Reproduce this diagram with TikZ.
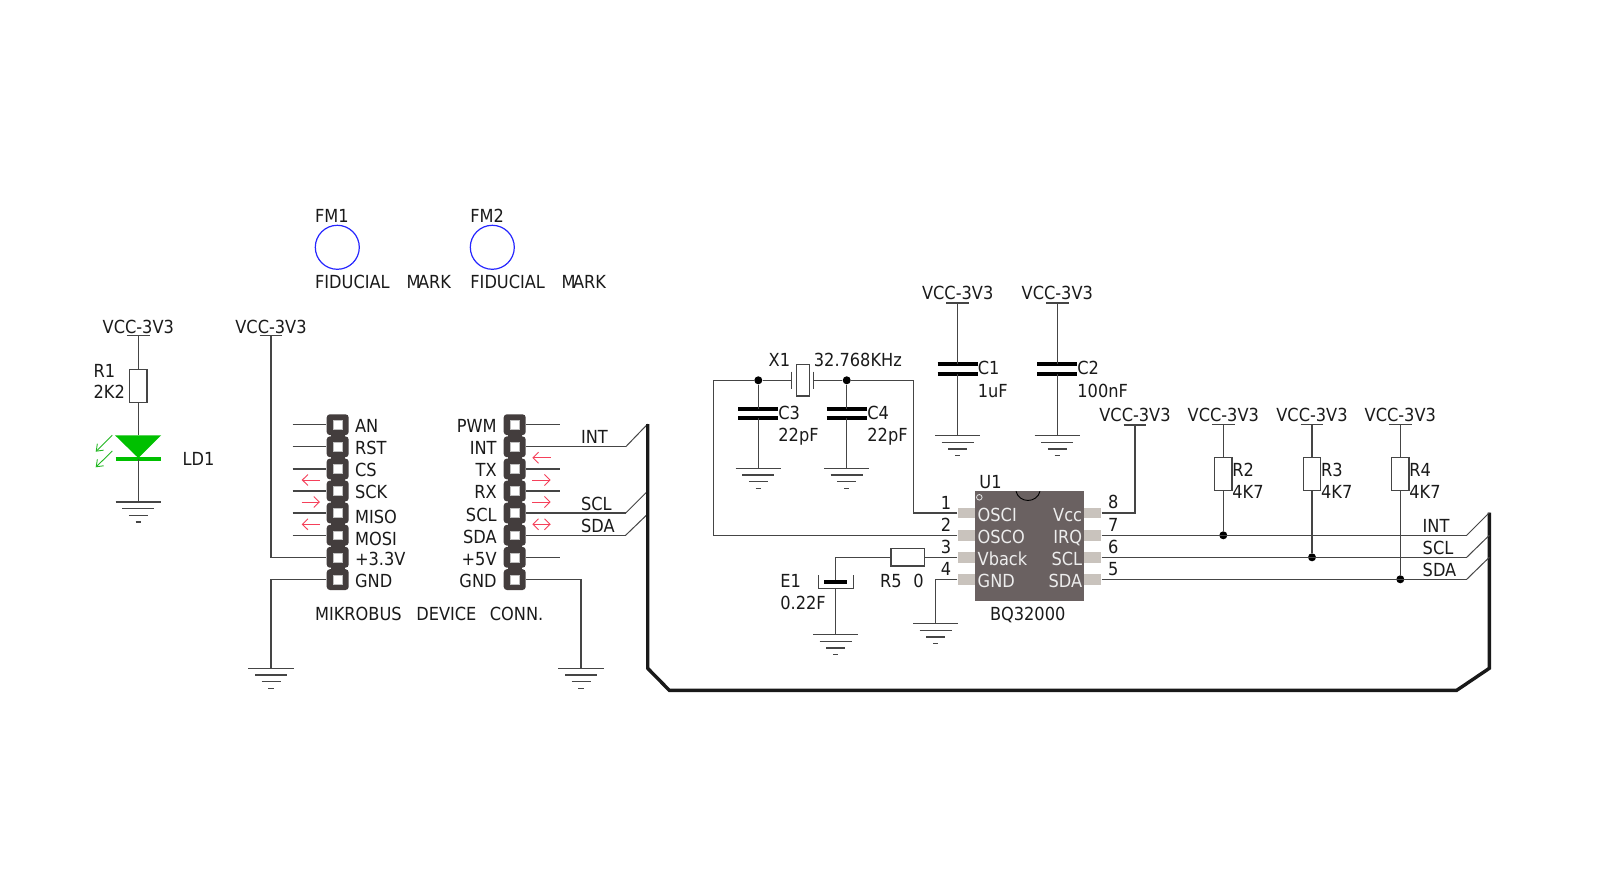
\documentclass[tikz,border=0pt]{standalone}
\usepackage{fontspec}
\setmainfont{DejaVu Sans Condensed}
\usetikzlibrary{arrows.meta}
\definecolor{wirec}{HTML}{454545}
\definecolor{pinc}{HTML}{433D3D}
\definecolor{chipc}{HTML}{6A6161}
\definecolor{padc}{HTML}{C9C3BD}
\definecolor{redc}{HTML}{F5405A}
\definecolor{grnc}{HTML}{22B822}
\definecolor{ledc}{HTML}{00C000}
\definecolor{txtc}{HTML}{1A1A1A}
\tikzset{
  wire/.style={draw=wirec,line width=0.65pt},
  bus/.style={draw=black!90,line width=1.7pt,line join=miter},
  thinbus/.style={draw=wirec,line width=0.5pt},
  lbl/.style={inner sep=0pt,text=txtc,text height=6.56pt,text depth=0pt,font=\fontsize{9}{11}\selectfont},
  lw/.style={lbl,anchor=west,xshift=-0.5pt},
  chiplbl/.style={lbl,text=white!93!black},
  dotn/.style={circle,fill=black,inner sep=0pt,minimum size=4pt},
  resv/.style={draw=wirec,fill=white,line width=0.6pt,inner sep=0pt,minimum width=8.7pt,minimum height=16.5pt},
  resh/.style={draw=wirec,fill=white,line width=0.6pt,inner sep=0pt,minimum width=16.8pt,minimum height=8.7pt},
  pinbody/.style={fill=pinc,rounded corners=1.6pt,inner sep=0pt,minimum width=11pt,minimum height=10.4pt},
  pinhole/.style={fill=white,draw=white!75!black,line width=0.2pt,inner sep=0pt,minimum size=4.4pt},
  padn/.style={fill=padc,inner sep=0pt,minimum width=8.8pt,minimum height=5.3pt},
  capplate/.style={draw=black,line width=2pt},
  redarrow/.style={draw=redc,line width=0.45pt,-{Straight Barb[length=2.8pt,width=5.5pt,line width=0.45pt]}},
  grnarrow/.style={draw=grnc,line width=0.45pt,-{Straight Barb[length=3pt,width=4.5pt,line width=0.45pt]}},
}
\newcommand\VccAt[4]{%
  \coordinate (#1) at (#2,#3);
  \node[lbl] (#1t) at (#2,#3-#4) {VCC-3V3};
  \draw[wire] (#2-11.4,#3) -- (#2+11.4,#3);
}
\newcommand\GndAt[3]{%
  \coordinate (#1) at (#2,#3);
  \draw[wire] (#2-22.7,#3) -- (#2+22.7,#3);
  \draw[wire] (#2-16,#3+6.7) -- (#2+16,#3+6.7);
  \draw[wire] (#2-9.5,#3+13.4) -- (#2+9.5,#3+13.4);
  \draw[wire] (#2-2.7,#3+20) -- (#2+2.7,#3+20);
}
\newcommand\CapAt[4]{% name x y1 y2 
  \coordinate (#1a) at (#2,#3);
  \coordinate (#1b) at (#2,#4);
  \draw[capplate] (#2-20,#3) -- (#2+20,#3);
  \draw[capplate] (#2-20,#4) -- (#2+20,#4);
}
\begin{document}
\begin{tikzpicture}[x=0.5pt,y=-0.5pt]
\fill[white] (0,0) rectangle (1599,871);
\useasboundingbox (0,0) rectangle (1599,871);

% fiducials
\node[draw=blue!85!white,line width=0.6pt,circle,inner sep=0pt,minimum size=22pt] (fm1) at (337.3,247.3) {};
\node[draw=blue!85!white,line width=0.6pt,circle,inner sep=0pt,minimum size=22pt] (fm2) at (492.3,247.3) {};
\node[lw] (fm1t) at (315.7,215.7) {FM1};
\node[lw] (fm2t) at (471,215.7) {FM2};
\node[lw] (fm1a) at (315.7,282.3) {FIDUCIAL};
\node[lw] (fm1b) at (407.3,282.3) {M\kern-1.3pt ARK};
\node[lw] (fm2a) at (471,282.3) {FIDUCIAL};
\node[lw] (fm2b) at (562.3,282.3) {M\kern-1.3pt ARK};

% LED branch
\VccAt{vled}{138.3}{335.7}{8.7}
\node[resv] (r1) at (138.3,385.7) {};
\draw[wire] (vled) -- (r1);
\node[lw] (r1t) at (94.3,370.7) {R1};
\node[lw] (r1v) at (94.3,391.7) {2K2};
\coordinate (ledtop) at (138.3,435.3);
\coordinate (ledbar) at (138.3,459);
\draw[wire] (r1) -- (ledtop);
\fill[ledc] (115,435.3) -- (161.2,435.3) -- (138.3,458) -- cycle;
\draw[ledc,line width=1.8pt] (115.5,459) -- (161,459);
\GndAt{gled}{138.3}{502}
\draw[wire] (ledbar) -- (gled);
\node[lw] (ld1) at (183.3,459) {LD1};
\draw[grnarrow] (112.3,435.3) -- (95.7,451.7);
\draw[grnarrow] (112.3,451) -- (95.7,467.3);

% connector bodies
\foreach \i/\yy in {1/424.7,2/446.8,3/469,4/491,5/513,6/535.2,7/557.3,8/579.6}{
  \node[pinbody] (pl\i) at (337.7,\yy) {};
  \node[pinbody] (pr\i) at (514.7,\yy) {};
}
\fill[pinc] (331,420) rectangle (344.5,585);
\fill[pinc] (508,420) rectangle (521.5,585);
\foreach \i/\yy in {1/424.7,2/446.8,3/469,4/491,5/513,6/535.2,7/557.3,8/579.6}{
  \node[pinhole] (hl\i) at (337.7,\yy) {};
  \node[pinhole] (hr\i) at (514.7,\yy) {};
}
% stubs
\foreach \i in {1,...,6}{
  \coordinate (sl\i) at ([xshift=-16.8pt]pl\i.west);
  \draw[wire] (sl\i) -- (pl\i.west);
}
\foreach \i in {1,3,4,7}{
  \coordinate (sr\i) at ([xshift=16.8pt]pr\i.east);
  \draw[wire] (pr\i.east) -- (sr\i);
}
% left labels
\foreach \n/\t/\yy in {a/AN/425.5,b/RST/447.7,c/CS/470,d/SCK/491.7,e/MISO/516.5,f/MOSI/538.8,g/+3.3V/559.3,h/GND/580.7}{
  \node[lw] (ll\n) at (355.7,\yy) {\t};
}
\foreach \n/\t/\yy in {a/PWM/425.5,b/INT/447.7,c/TX/470,d/RX/491.7,e/SCL/515,f/SDA/536.7,g/+5V/558.7,h/GND/580.7}{
  \node[lbl,anchor=east] (lr\n) at (497,\yy) {\t};
}
\node[lw] (mik1) at (315.7,614) {MIKROBUS};
\node[lw] (mik2) at (417,614) {DEVICE};
\node[lw] (mik3) at (490.5,614) {CONN.};

% vcc to +3.3V
\VccAt{vbus}{271}{335.7}{8.7}
\draw[wire] (vbus) |- (pl7.west);
\GndAt{gl}{271}{668.3}
\draw[wire] (pl8.west) -| (gl);
\GndAt{gr}{581}{668.3}
\draw[wire] (pr8.east) -| (gr);

% red arrows
\draw[redarrow] (320,480) -- (301.7,480);
\draw[redarrow] (301.7,502) -- (320,502);
\draw[redarrow] (320,524.3) -- (301.7,524.3);
\draw[redarrow] (550.7,457.7) -- (532.3,457.7);
\draw[redarrow] (532.3,480) -- (550.7,480);
\draw[redarrow] (532.3,502) -- (550.7,502);
\draw[redarrow,{Straight Barb[length=2.8pt,width=5.5pt,line width=0.45pt]}-{Straight Barb[length=2.8pt,width=5.5pt,line width=0.45pt]}] (532.3,524.3) -- (550.7,524.3);

% left bus entries
\coordinate (ebl1) at (625.7,446.8);
\coordinate (ebl2) at (625.7,513);
\coordinate (ebl3) at (625.7,535.2);
\draw[wire] (pr2.east) -- (ebl1);
\draw[wire] (pr5.east) -- (ebl2);
\draw[wire] (pr6.east) -- (ebl3);
\coordinate (bbl1) at (647.7,424);
\coordinate (bbl2) at (647.7,491);
\coordinate (bbl3) at (647.7,514);
\draw[thinbus] (ebl1) -- (bbl1);
\draw[thinbus] (ebl2) -- (bbl2);
\draw[thinbus] (ebl3) -- (bbl3);
\node[lw] (bi) at (581.7,437) {INT};
\node[lw] (bs) at (581.7,503.7) {SCL};
\node[lw] (bd) at (581.7,525.7) {SDA};

% bus
\coordinate (bc1) at (647.7,668.3);
\coordinate (bc2) at (669.3,690.3);
\coordinate (bc3) at (1456.7,690.3);
\coordinate (bc4) at (1489.3,668.3);
\coordinate (bc5) at (1489.3,512.7);
\draw[bus] (bbl1) -- (bc1) -- (bc2) -- (bc3) -- (bc4) -- (bc5);

% chip
\node[fill=chipc,inner sep=0pt,minimum width=54.2pt,minimum height=55pt] (u1) at (1029.5,546.3) {};
\foreach \i/\yy in {1/513,2/535.3,3/557.3,4/579.3}{
  \node[padn] (pa\i) at (966.6,\yy) {};
}
\foreach \i/\yy in {8/513,7/535.3,6/557.3,5/579.3}{
  \node[padn] (pa\i) at (1092.5,\yy) {};
}
\draw[black,line width=0.45pt] (1016,491.3) .. controls (1019,503.5) and (1037,503.5) .. (1040,491.3);
\node[circle,draw=white!90!black,line width=0.4pt,inner sep=0pt,minimum size=2.8pt] (u1dot) at (979.3,497.3) {};
\foreach \n/\t/\yy in {a/OSCI/514.5,b/OSCO/536.7,c/Vback/558.7,d/GND/580.7}{
  \node[chiplbl,anchor=west] (ui\n) at (977.3,\yy) {\t};
}
\foreach \n/\t/\yy in {a/Vcc/514.5,b/IRQ/536.7,c/SCL/558.7,d/SDA/580.7}{
  \node[chiplbl,anchor=east] (uo\n) at (1082.5,\yy) {\t};
}
\node[lw] (u1t) at (980,481.5) {U1};
\node[lbl] (u1v) at (1027.7,614) {BQ32000};
\foreach \n/\yy in {1/502.7,2/525.3,3/546.7,4/569.3}{
  \node[lbl] (npl\n) at (946,\yy) {\n};
}
\foreach \n/\yy in {8/502.3,7/525,6/547,5/569}{
  \node[lbl] (npr\n) at (1113.3,\yy) {\n};
}

% crystal net
\coordinate (xl) at (713.7,380.3);
\coordinate (xr) at (913.7,380.3);
\node[dotn] (d3) at (758.3,380.3) {};
\node[dotn] (d4) at (846.7,380.3) {};
\coordinate (xa) at (791.3,380.3);
\coordinate (xb) at (813.7,380.3);
\draw[wire] (pa1.west) -| (xr) -- (d4) -- (xb);
\draw[wire] (pa2.west) -| (xl) -- (d3) -- (xa);
\draw[wire] (791.3,371.7) -- (791.3,389.3);
\draw[wire] (813.7,371.7) -- (813.7,389.3);
\node[draw=wirec,line width=0.6pt,inner sep=0pt,minimum width=6.6pt,minimum height=15.8pt] (x1) at (802.7,380.2) {};
\node[lw] (x1t) at (769.3,360) {X1};
\node[lw] (x1v) at (814.5,360) {32.768KHz};

% C3 C4
\CapAt{c3}{758.3}{409}{418.3}
\CapAt{c4}{846.7}{409}{418.3}
\GndAt{g3}{758.3}{468.3}
\GndAt{g4}{846.7}{468.3}
\draw[wire] (d3) -- (c3a); \draw[wire] (c3b) -- (g3);
\draw[wire] (d4) -- (c4a); \draw[wire] (c4b) -- (g4);
\node[lw] (c3t) at (779,412.7) {C3};
\node[lw] (c3v) at (779,435) {22pF};
\node[lw] (c4t) at (868,412.7) {C4};
\node[lw] (c4v) at (868,435) {22pF};

% C1 C2
\VccAt{v1}{957.7}{303}{10.5}
\VccAt{v2}{1057.3}{303}{10.5}
\CapAt{c1}{957.7}{364.3}{373.7}
\CapAt{c2}{1057.3}{364.3}{373.7}
\GndAt{g1}{957.7}{435.7}
\GndAt{g2}{1057.3}{435.7}
\draw[wire] (v1) -- (c1a); \draw[wire] (c1b) -- (g1);
\draw[wire] (v2) -- (c2a); \draw[wire] (c2b) -- (g2);
\node[lw] (c1t) at (978.5,368.3) {C1};
\node[lw] (c1v) at (978.5,390.7) {1uF};
\node[lw] (c2t) at (1078,368.3) {C2};
\node[lw] (c2v) at (1078,390.7) {100nF};

% pin 8
\VccAt{v8}{1135}{425}{10}
\draw[wire] (pa8.east) -| (v8);

% R5, E1
\node[resh] (r5) at (907.8,557.3) {};
\draw[wire] (pa3.west) -- (r5);
\coordinate (ept) at (835.7,581.7);
\coordinate (epb) at (835.7,588.3);
\draw[wire] (r5.west) -| (ept);
\draw[black,line width=1.8pt] (824.3,581.7) -- (847,581.7);
\draw[wire] (818.3,575) -- (818.3,588.3) -- (853.7,588.3) -- (853.7,575);
\GndAt{ge}{835.7}{634.7}
\draw[wire] (epb) -- (ge);
\node[lw] (e1t) at (781,580.7) {E1};
\node[lw] (e1v) at (781,603.3) {0.22F};
\node[lw] (r5t) at (880.7,580.7) {R5};
\node[lw] (r5v) at (914,580.7) {0};
\GndAt{gu}{935.7}{623.7}
\draw[wire] (pa4.west) -| (gu);

% pull-ups
\VccAt{vr2}{1223.3}{424.3}{9.3}
\VccAt{vr3}{1312}{424.3}{9.3}
\VccAt{vr4}{1400.3}{424.3}{9.3}
\node[resv] (r2) at (1223.3,474.2) {};
\node[resv] (r3) at (1312,474.2) {};
\node[resv] (r4) at (1400.3,474.2) {};
\node[dotn] (d2) at (1223.3,535.3) {};
\node[dotn] (d5) at (1312,557.3) {};
\node[dotn] (d6) at (1400.3,579.3) {};
\draw[wire] (vr2) -- (r2) -- (d2);
\draw[wire] (vr3) -- (r3) -- (d5);
\draw[wire] (vr4) -- (r4) -- (d6);
\node[lw] (r2t) at (1233,470) {R2};
\node[lw] (r2v) at (1233,491.7) {4K7};
\node[lw] (r3t) at (1321.7,470) {R3};
\node[lw] (r3v) at (1321.7,491.7) {4K7};
\node[lw] (r4t) at (1410,470) {R4};
\node[lw] (r4v) at (1410,491.7) {4K7};

% right bus entries
\coordinate (ebr1) at (1466.7,535.3);
\coordinate (ebr2) at (1466.7,557.3);
\coordinate (ebr3) at (1466.7,579.3);
\coordinate (bbr1) at (1489.3,512.7);
\coordinate (bbr2) at (1489.3,535.3);
\coordinate (bbr3) at (1489.3,557.3);
\draw[wire] (pa7.east) -- (ebr1);
\draw[wire] (pa6.east) -- (ebr2);
\draw[wire] (pa5.east) -- (ebr3);
\draw[thinbus] (ebr1) -- (bbr1);
\draw[thinbus] (ebr2) -- (bbr2);
\draw[thinbus] (ebr3) -- (bbr3);
\node[lw] (ri) at (1423.3,525.7) {INT};
\node[lw] (rs) at (1423.3,547.7) {SCL};
\node[lw] (rd) at (1423.3,570) {SDA};
\end{tikzpicture}
\end{document}
